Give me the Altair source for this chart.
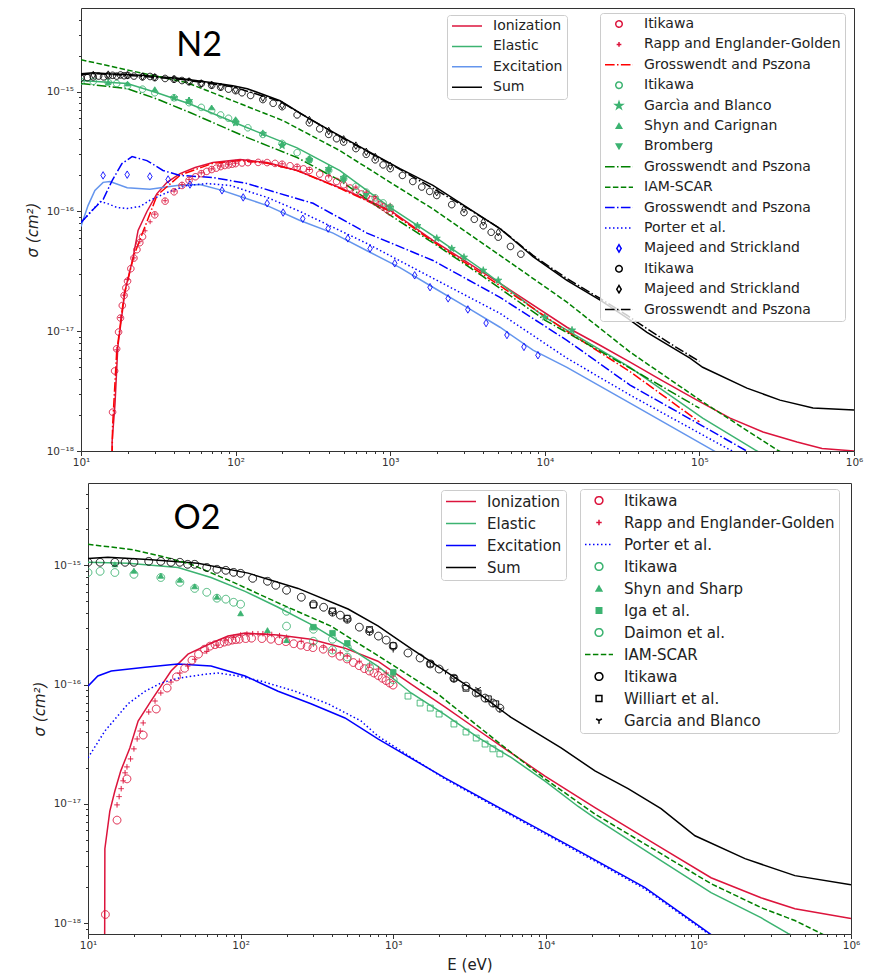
import altair as alt
import pandas as pd

# ============================ N2 ============================
# model curves  (E in eV, sigma in cm^2)
N2_ION = [(15.75, 5e-19), (15.9, 1.2e-18), (16.6, 2.5e-18), (17.3, 7.4e-18), (19.3, 2.2e-17),
          (21.7, 4.1e-17), (23.4, 6.95e-17), (26.7, 1.0e-16), (31, 1.41e-16), (36, 1.75e-16),
          (43.7, 2.07e-16), (54.7, 2.33e-16), (71.4, 2.56e-16),
          (107, 2.71e-16), (160, 2.56e-16), (250, 2.2e-16), (473, 1.58e-16), (1000, 1.02e-16),
          (1890, 5.75e-17), (5130, 2.51e-17), (13900, 1.08e-17), (22750, 7.64e-18), (35600, 5.52e-18),
          (58200, 3.83e-18), (96400, 2.66e-18), (158000, 1.88e-18), (258000, 1.44e-18),
          (428000, 1.19e-18), (621000, 1.05e-18), (1000000, 1.0e-18)]
N2_ELA = [(10, 1.24e-15), (19.9, 1.17e-15), (31, 9.8e-16), (50.7, 7.9e-16), (119, 5.0e-16),
          (250, 3.4e-16), (473, 2.19e-16), (997, 1.08e-16), (2010, 5.96e-17), (3980, 3.23e-17),
          (10000, 1.31e-17), (35600, 5.0e-18), (105000, 1.88e-18), (229000, 1.02e-18), (331000, 7.9e-19)]
N2_EXC = [(10, 7.5e-17), (11.1, 1.12e-16), (12.3, 1.5e-16), (13.9, 1.75e-16), (15.4, 1.78e-16),
          (19.9, 1.58e-16), (27.9, 1.53e-16), (41.8, 1.65e-16), (58.9, 1.68e-16), (81.7, 1.5e-16),
          (112, 1.31e-16), (160, 1.12e-16), (261, 8.4e-17), (427, 6.6e-17), (708, 4.7e-17),
          (1156, 3.4e-17), (1890, 2.33e-17), (3140, 1.58e-17), (5130, 1.08e-17), (8390, 6.95e-18),
          (13900, 5.0e-18), (35600, 2.51e-18), (121000, 1.02e-18), (183000, 7.6e-19)]
N2_SUM = [(10, 1.41e-15), (12, 1.44e-15), (15, 1.41e-15), (20, 1.39e-15), (27, 1.36e-15),
          (44, 1.29e-15), (71, 1.19e-15), (96, 1.12e-15), (119, 1.06e-15), (194, 8.4e-16),
          (290, 6.1e-16), (427, 4.6e-16), (708, 3.22e-16), (1156, 2.28e-16), (1890, 1.65e-16),
          (3140, 1.08e-16), (5130, 7.2e-17), (8390, 4.2e-17), (13900, 2.66e-17), (22800, 1.82e-17),
          (34000, 1.29e-17), (45800, 9.8e-18), (86900, 5.96e-18), (105000, 5.0e-18),
          (203000, 3.35e-18), (332000, 2.66e-18), (543000, 2.29e-18), (1000000, 2.2e-18)]

# reference curves
N2_GP_ION = [(15.8, 5e-19), (16.0, 1.6e-18), (17.0, 6.6e-18), (19.0, 2.0e-17), (22, 4.3e-17),
             (25, 6.6e-17), (31, 1.36e-16), (44, 2.02e-16), (71, 2.52e-16), (107, 2.66e-16),
             (160, 2.53e-16), (250, 2.2e-16), (473, 1.56e-16), (1000, 1.0e-16), (1890, 5.6e-17),
             (5130, 2.4e-17), (13900, 1.0e-17), (35600, 4.6e-18), (100000, 1.75e-18)]
N2_GP_ELA = [(10, 1.17e-15), (19.9, 1.06e-15), (31, 8.7e-16), (50.7, 6.7e-16), (119, 4.14e-16),
             (250, 2.82e-16), (473, 1.81e-16), (1000, 9.3e-17), (2010, 5.2e-17), (3980, 2.87e-17),
             (10000, 1.24e-17), (35600, 4.92e-18), (100000, 2.28e-18)]
N2_IAM = [(10, 1.85e-15), (24.1, 1.44e-15), (48.5, 1.19e-15), (96, 8.4e-16), (203, 5.73e-16),
          (473, 3.22e-16), (1000, 1.75e-16), (1890, 1.05e-16), (5130, 4.3e-17), (13900, 1.75e-17),
          (35600, 6.7e-18), (101000, 2.66e-18), (318000, 1.02e-18), (448000, 8.1e-19)]
N2_GP_EXC = [(10, 8.1e-17), (11.8, 1.02e-16), (13.9, 1.26e-16), (15.9, 1.81e-16), (18.4, 2.51e-16),
             (21.4, 2.87e-16), (26.7, 2.66e-16), (33.9, 2.2e-16), (43.7, 2.0e-16), (71.4, 1.92e-16),
             (119, 1.71e-16), (194, 1.41e-16), (317, 1.17e-16), (708, 6.6e-17), (1890, 3.9e-17),
             (5130, 1.92e-17), (13900, 8.4e-18), (35600, 3.55e-18), (197000, 1.02e-18),
             (286000, 7.9e-19)]
N2_PORTER = [(10, 8.1e-17), (11.8, 1.02e-16), (13.3, 1.21e-16), (14.7, 1.17e-16), (17.1, 1.08e-16),
             (19.9, 1.06e-16), (24.1, 1.1e-16), (27.9, 1.24e-16), (36, 1.44e-16), (48.5, 1.65e-16),
             (65.3, 1.71e-16), (92, 1.65e-16), (160, 1.31e-16), (261, 1.0e-16), (708, 5.4e-17),
             (1890, 2.77e-17), (5130, 1.41e-17), (13900, 5.96e-18), (35600, 2.93e-18),
             (158000, 1.02e-18), (247000, 7.5e-19)]
N2_GP_SUM = [(10, 1.38e-15), (12, 1.42e-15), (20, 1.37e-15), (44, 1.27e-15), (96, 1.1e-15),
             (194, 8.3e-16), (427, 4.55e-16), (1156, 2.25e-16), (3140, 1.07e-16), (5130, 7.2e-17),
             (8390, 4.3e-17), (13900, 2.75e-17), (22800, 1.88e-17), (34000, 1.36e-17),
             (45800, 1.05e-17), (70000, 7.4e-18), (100000, 5.6e-18)]

# measurements
N2_ITI_ION = [(16, 2.11e-18), (16.5, 4.66e-18), (17, 7.13e-18), (17.5, 9.85e-18), (18, 1.29e-17),
              (18.5, 1.64e-17), (19, 1.99e-17), (19.5, 2.3e-17), (20, 2.62e-17), (21, 3.33e-17),
              (22, 4.08e-17), (23, 4.8e-17), (24, 5.49e-17), (25, 6.16e-17), (30, 9.37e-17),
              (35, 1.22e-16), (40, 1.46e-16), (45, 1.65e-16), (50, 1.82e-16), (55, 1.95e-16),
              (60, 2.07e-16), (65, 2.16e-16), (70, 2.24e-16), (75, 2.3e-16), (80, 2.37e-16),
              (85, 2.42e-16), (90, 2.45e-16), (95, 2.48e-16), (100, 2.51e-16), (110, 2.54e-16),
              (120, 2.56e-16), (140, 2.57e-16), (160, 2.56e-16), (180, 2.52e-16), (200, 2.48e-16),
              (225, 2.41e-16), (250, 2.34e-16), (275, 2.27e-16), (300, 2.2e-16), (350, 2.05e-16),
              (400, 1.9e-16), (450, 1.78e-16), (500, 1.67e-16), (550, 1.57e-16), (600, 1.48e-16),
              (650, 1.4e-16), (700, 1.33e-16), (750, 1.26e-16), (800, 1.2e-16), (850, 1.14e-16),
              (900, 1.09e-16), (950, 1.04e-16), (1000, 9.9e-17)]
N2_RAPP = [(17, 7.0e-18), (18, 1.3e-17), (19, 2.0e-17), (20, 2.7e-17), (22, 4.1e-17), (24, 5.6e-17),
           (26, 6.9e-17), (28, 8.2e-17), (30, 9.5e-17), (35, 1.23e-16), (40, 1.48e-16),
           (45, 1.68e-16), (50, 1.85e-16), (60, 2.1e-16), (70, 2.27e-16), (80, 2.4e-16),
           (90, 2.48e-16), (100, 2.53e-16), (125, 2.58e-16), (150, 2.58e-16), (200, 2.5e-16),
           (250, 2.37e-16), (300, 2.24e-16), (400, 1.98e-16), (500, 1.77e-16), (600, 1.6e-16),
           (700, 1.45e-16), (800, 1.33e-16), (1000, 1.13e-16)]
N2_ITI_ELA = [(10, 1.22e-15), (12, 1.22e-15), (15, 1.2e-15), (17, 1.17e-15), (20, 1.12e-15),
              (25, 1.05e-15), (30, 9.8e-16), (40, 8.9e-16), (50, 8.1e-16), (60, 7.4e-16),
              (70, 6.95e-16), (80, 6.4e-16), (90, 6.0e-16), (100, 5.6e-16), (120, 5.0e-16),
              (150, 4.4e-16), (200, 3.7e-16), (250, 3.1e-16), (300, 2.7e-16), (400, 2.2e-16),
              (500, 1.88e-16), (600, 1.62e-16), (700, 1.45e-16), (800, 1.3e-16), (900, 1.18e-16),
              (1000, 1.08e-16)]
N2_GARCIA = [(40, 8.9e-16), (50, 8.4e-16), (100, 5.5e-16), (150, 4.47e-16), (200, 3.55e-16),
             (300, 2.71e-16), (400, 2.28e-16), (500, 1.92e-16), (1000, 1.08e-16), (1500, 7.6e-17),
             (2000, 5.96e-17), (2500, 4.9e-17), (3000, 4.14e-17), (4000, 3.22e-17),
             (5000, 2.66e-17), (10000, 1.31e-17), (15000, 1.02e-17)]
N2_SHYN = [(15, 1.2e-15), (20, 1.17e-15), (30, 1.05e-15), (50, 8.6e-16), (70, 7.4e-16),
           (100, 5.9e-16), (200, 3.7e-16), (300, 2.8e-16)]
N2_BROMBERG = [(300, 2.62e-16), (400, 2.15e-16), (500, 1.8e-16), (700, 1.35e-16)]
N2_MAJEED_EXC = [(13.9, 2.0e-16), (19.9, 2.03e-16), (27.9, 1.96e-16), (36.6, 1.85e-16),
                 (50.7, 1.68e-16), (81.7, 1.5e-16), (112, 1.31e-16), (160, 1.17e-16),
                 (203, 9.8e-17), (272, 8.7e-17), (397, 7.2e-17), (532, 5.96e-17), (741, 4.9e-17),
                 (1070, 3.69e-17), (1440, 2.93e-17), (1810, 2.33e-17), (2370, 1.88e-17),
                 (3180, 1.52e-17), (4170, 1.17e-17), (5690, 9.3e-18), (7330, 7.4e-18),
                 (9030, 6.3e-18)]
N2_ITI_SUM = [(10, 1.3e-15), (11, 1.31e-15), (12, 1.33e-15), (13, 1.35e-15), (14, 1.33e-15),
              (15, 1.36e-15), (16, 1.37e-15), (17, 1.35e-15), (18, 1.38e-15), (19, 1.36e-15),
              (20, 1.37e-15), (22, 1.35e-15), (25, 1.33e-15), (28, 1.34e-15), (30, 1.31e-15),
              (35, 1.29e-15), (40, 1.27e-15), (45, 1.24e-15), (50, 1.21e-15), (60, 1.17e-15),
              (70, 1.13e-15), (80, 1.09e-15), (90, 1.05e-15), (100, 1.02e-15), (110, 9.8e-16),
              (125, 9.3e-16), (150, 8.6e-16), (175, 8.0e-16), (200, 7.5e-16), (250, 6.4e-16),
              (300, 5.5e-16), (350, 4.9e-16), (400, 4.4e-16), (450, 4.05e-16), (500, 3.8e-16),
              (600, 3.35e-16), (700, 3.0e-16), (800, 2.7e-16), (900, 2.45e-16), (1000, 2.28e-16),
              (1200, 2.0e-16), (1400, 1.78e-16), (1600, 1.6e-16), (1800, 1.47e-16),
              (2000, 1.36e-16), (2500, 1.14e-16), (3000, 9.8e-17), (3500, 8.6e-17),
              (4000, 7.6e-17), (4500, 6.7e-17), (5000, 6.1e-17), (6000, 5.1e-17), (7000, 4.4e-17)]
N2_MAJEED_SUM = [(12, 1.38e-15), (15, 1.39e-15), (20, 1.37e-15), (25, 1.34e-15), (30, 1.32e-15),
                 (40, 1.27e-15), (50, 1.22e-15), (60, 1.17e-15), (70, 1.14e-15), (80, 1.1e-15),
                 (100, 1.04e-15), (150, 8.9e-16), (200, 7.7e-16), (300, 5.8e-16), (400, 4.7e-16),
                 (500, 4.0e-16), (600, 3.55e-16), (700, 3.15e-16), (800, 2.85e-16),
                 (1000, 2.4e-16), (2000, 1.45e-16), (3000, 1.05e-16), (4000, 8.2e-17),
                 (5000, 6.7e-17)]

# ============================ O2 ============================
O2_ION = [(12.85, 5e-19), (12.9, 4.2e-18), (13.9, 8.7e-18), (15.0, 1.28e-17), (16.4, 1.89e-17),
          (18.8, 2.94e-17), (21.3, 4.95e-17), (25.9, 7.3e-17), (35, 1.3e-16), (45.2, 1.8e-16),
          (64, 2.22e-16), (82.7, 2.55e-16), (107, 2.7e-16), (176, 2.6e-16), (289, 2.4e-16),
          (483, 2.02e-16), (794, 1.57e-16), (1310, 1.01e-16), (2180, 6.5e-17), (3590, 4.16e-17),
          (5920, 2.67e-17), (9880, 1.71e-17), (21000, 9.3e-18), (56900, 4.29e-18),
          (121000, 2.4e-18), (257000, 1.63e-18), (429000, 1.32e-18), (1000000, 1.09e-18)]
O2_ELA = [(10, 1.06e-15), (18.3, 1.04e-15), (38.9, 9.6e-16), (64, 7.9e-16), (107, 6.05e-16),
          (176, 4.45e-16), (289, 3.2e-16), (483, 2.15e-16), (794, 1.42e-16), (1310, 8.5e-17),
          (2180, 5.6e-17), (3590, 3.6e-17), (5920, 2.45e-17), (9880, 1.55e-17), (16300, 9.5e-18),
          (21000, 7.6e-18), (56900, 3.34e-18), (121000, 1.8e-18), (257000, 1.11e-18),
          (386000, 8.2e-19), (500000, 7e-19)]
O2_EXC = [(10, 9.7e-17), (11.6, 1.18e-16), (14.2, 1.3e-16), (23.7, 1.4e-16), (38.9, 1.49e-16),
          (64, 1.43e-16), (107, 1.18e-16), (176, 8.8e-17), (289, 6.9e-17), (483, 5.25e-17),
          (794, 3.5e-17), (2180, 1.65e-17), (5920, 8.2e-18), (16300, 4.05e-18), (44700, 1.98e-18),
          (104000, 9.2e-19), (130000, 7.5e-19)]
O2_SUM = [(10, 1.14e-15), (13.5, 1.17e-15), (24.7, 1.12e-15), (52.6, 1.04e-15), (112, 8.6e-16),
          (238, 6.4e-16), (506, 4.3e-16), (794, 3.1e-16), (1310, 2.0e-16), (2180, 1.3e-16),
          (3590, 8.5e-17), (5920, 5.3e-17), (12600, 2.94e-17), (21000, 1.89e-17),
          (34600, 1.34e-17), (56900, 9.1e-18), (95000, 5.4e-18), (202000, 3.47e-18),
          (429000, 2.5e-18), (1000000, 2.1e-18)]

O2_PORTER = [(10, 2.43e-17), (12.9, 4.08e-17), (18.3, 6.9e-17), (23.7, 8.8e-17), (30.1, 1.03e-16),
             (38.9, 1.13e-16), (58.5, 1.22e-16), (71, 1.25e-16), (96, 1.18e-16), (136, 1.07e-16),
             (227, 8.8e-17), (374, 6.9e-17), (615, 4.95e-17), (794, 3.7e-17), (2180, 1.62e-17),
             (5920, 8.0e-18), (16300, 3.95e-18), (44700, 1.93e-18), (104000, 9.0e-19),
             (130000, 7.3e-19)]
O2_IAM = [(10, 1.5e-15), (19.1, 1.36e-15), (32, 1.17e-15), (47.3, 1.02e-15), (86.5, 7.35e-16),
          (184, 4.72e-16), (391, 3.09e-16), (1074, 1.37e-16), (1970, 8.3e-17), (5000, 3.2e-17),
          (9880, 1.62e-17), (21000, 8.2e-18), (56900, 3.82e-18), (121000, 2.14e-18),
          (257000, 1.35e-18), (429000, 1.05e-18), (635000, 8.2e-19), (800000, 7e-19)]

O2_ITI_ION = [(13, 1.18e-18), (15.5, 7.3e-18), (18, 1.62e-17), (23, 3.77e-17), (28, 6.24e-17),
              (33, 9.35e-17), (38, 1.16e-16), (43, 1.37e-16), (48, 1.6e-16), (53, 1.8e-16),
              (58, 1.98e-16), (63, 2.1e-16), (68, 2.16e-16), (73, 2.2e-16), (78, 2.27e-16),
              (83, 2.31e-16), (88, 2.36e-16), (93, 2.38e-16), (98, 2.4e-16), (108, 2.43e-16),
              (118, 2.45e-16), (138, 2.43e-16), (158, 2.4e-16), (178, 2.33e-16), (198, 2.29e-16),
              (223, 2.2e-16), (248, 2.14e-16), (273, 2.08e-16), (298, 2.04e-16), (348, 1.98e-16),
              (398, 1.84e-16), (448, 1.73e-16), (498, 1.64e-16), (548, 1.53e-16), (598, 1.44e-16),
              (648, 1.36e-16), (698, 1.3e-16), (748, 1.25e-16), (798, 1.19e-16), (848, 1.13e-16),
              (898, 1.08e-16), (948, 1.03e-16), (998, 9.9e-17)]
O2_RAPP = [(15.5, 9.8e-18), (16, 1.15e-17), (16.5, 1.34e-17), (17, 1.56e-17), (17.5, 1.82e-17),
           (18, 2.04e-17), (19, 2.38e-17), (20, 2.89e-17), (21, 3.5e-17), (22, 4.08e-17),
           (23, 4.77e-17), (25, 5.89e-17), (27.5, 7.28e-17), (30, 8.5e-17), (35, 1.05e-16),
           (40, 1.25e-16), (45, 1.43e-16), (50, 1.63e-16), (60, 1.9e-16), (70, 2.14e-16),
           (80, 2.36e-16), (90, 2.49e-16), (100, 2.6e-16), (110, 2.65e-16), (120, 2.67e-16),
           (130, 2.67e-16), (140, 2.67e-16), (150, 2.65e-16), (160, 2.63e-16), (180, 2.57e-16),
           (200, 2.49e-16), (250, 2.31e-16), (300, 2.18e-16), (350, 2.06e-16), (400, 1.94e-16),
           (450, 1.84e-16), (500, 1.73e-16), (600, 1.57e-16), (700, 1.46e-16), (800, 1.35e-16),
           (900, 1.25e-16), (1000, 1.18e-16)]
O2_ITI_ELA = [(10, 8.7e-16), (12, 8.9e-16), (15, 8.7e-16), (20, 8.4e-16), (30, 7.9e-16),
              (40, 7.2e-16), (50, 6.4e-16), (60, 5.94e-16), (70, 5.3e-16), (80, 5.2e-16),
              (90, 4.9e-16), (100, 4.72e-16), (200, 3.09e-16), (300, 2.31e-16), (400, 1.95e-16),
              (500, 1.7e-16), (700, 1.4e-16), (1000, 1.1e-16)]
O2_SHYN = [(15, 1.02e-15), (20, 9.0e-16), (30, 8.17e-16), (40, 7.56e-16), (50, 6.67e-16),
           (70, 5.45e-16), (100, 3.96e-16), (150, 2.86e-16), (200, 2.36e-16)]
O2_IGA = [(300, 3.03e-16), (400, 2.7e-16), (500, 2.22e-16), (1000, 1.27e-16)]
O2_IGA_HIGH = [(1250, 8.0e-17), (1500, 7.0e-17), (1750, 6.35e-17), (2000, 5.66e-17),
               (2500, 4.67e-17), (3000, 4.0e-17), (3500, 3.56e-17), (4000, 3.17e-17),
               (4500, 2.89e-17), (5000, 2.62e-17)]
O2_DAIMON = [(200, 4.12e-16), (300, 2.91e-16), (400, 2.4e-16), (500, 2.05e-16)]
O2_ITI_SUM = [(10, 1.06e-15), (12, 1.06e-15), (15, 1.06e-15), (17.5, 1.06e-15), (20, 1.06e-15),
              (25, 1.08e-15), (30, 1.08e-15), (35, 1.06e-15), (40, 1.06e-15), (45, 1.02e-15),
              (50, 1.02e-15), (60, 9.6e-16), (70, 9.26e-16), (80, 9.08e-16), (90, 8.73e-16),
              (100, 8.57e-16), (120, 7.78e-16), (150, 7.35e-16), (170, 6.8e-16), (200, 6.18e-16),
              (250, 5.4e-16), (300, 4.72e-16), (350, 4.45e-16), (400, 4.05e-16), (450, 3.82e-16),
              (500, 3.53e-16), (600, 3.03e-16), (700, 2.8e-16), (800, 2.55e-16), (900, 2.36e-16),
              (1000, 2.1e-16), (1250, 1.84e-16), (1500, 1.67e-16), (1750, 1.49e-16),
              (2000, 1.35e-16), (2500, 1.13e-16), (3000, 9.7e-17), (3500, 8.5e-17),
              (4000, 7.7e-17), (4500, 7.0e-17), (5000, 6.35e-17)]
O2_WILLIART = [(300, 4.65e-16), (400, 4.15e-16), (500, 3.6e-16), (700, 2.9e-16), (1000, 2.12e-16),
               (1750, 1.49e-16), (2500, 1.13e-16), (3000, 9.3e-17), (3600, 8.5e-17),
               (4200, 7.6e-17), (4700, 6.9e-17)]
O2_GARCIA = [(400, 4.0e-16), (500, 3.5e-16), (700, 2.75e-16), (1000, 1.98e-16), (1750, 1.51e-16),
             (2200, 1.3e-16), (2500, 1.11e-16), (3600, 9.2e-17), (5000, 6.2e-17)]

# ============================ styling ============================
CRIMSON, MSG, CORNFLOWER = "#dc143c", "#3cb371", "#6495ed"
RED, GREEN, BLUE, BLACK = "#ff0000", "#008000", "#0000ff", "#000000"

SOLID = [1, 0]
DASHDOT = [9.6, 2.4, 1.5, 2.4]
DASHED = [5.5, 2.4]
DOTTED = [1.5, 2.5]

PLUS = "M-1,0L1,0M0,-1L0,1"
STAR = ("M0,-1L0.2245,-0.309L0.951,-0.309L0.363,0.118L0.588,0.809L0,0.382"
        "L-0.588,0.809L-0.363,0.118L-0.951,-0.309L-0.2245,-0.309Z")
THIN_DIAMOND = "M0,-1L0.6,0L0,1L-0.6,0Z"
TRI_DOWN = "M0,0L0,1M0,0L-0.87,-0.5M0,0L0.87,-0.5"
NONE = "transparent"
LINE = 784  # legend sample length for line entries (28 px)

# legend key, series, kind, colour, dash, shape, fill, size
N2_REFS = [
    ("Itikawa", N2_ITI_ION, "pt", CRIMSON, SOLID, "circle", NONE, 42),
    ("Rapp and Englander-Golden", N2_RAPP, "pt", CRIMSON, SOLID, PLUS, NONE, 22),
    ("Grosswendt and Pszona", N2_GP_ION, "ln", RED, DASHDOT, "stroke", NONE, LINE),
    ("Itikawa ", N2_ITI_ELA, "pt", MSG, SOLID, "circle", NONE, 42),
    ("Garcìa and Blanco", N2_GARCIA, "pt", MSG, SOLID, STAR, MSG, 55),
    ("Shyn and Carignan", N2_SHYN, "pt", MSG, SOLID, "triangle-up", MSG, 30),
    ("Bromberg", N2_BROMBERG, "pt", MSG, SOLID, "triangle-down", MSG, 30),
    ("Grosswendt and Pszona ", N2_GP_ELA, "ln", GREEN, DASHDOT, "stroke", NONE, LINE),
    ("IAM-SCAR", N2_IAM, "ln", GREEN, DASHED, "stroke", NONE, LINE),
    ("Grosswendt and Pszona  ", N2_GP_EXC, "ln", BLUE, DASHDOT, "stroke", NONE, LINE),
    ("Porter et al.", N2_PORTER, "ln", BLUE, DOTTED, "stroke", NONE, LINE),
    ("Majeed  and Strickland", N2_MAJEED_EXC, "pt", BLUE, SOLID, THIN_DIAMOND, NONE, 55),
    ("Itikawa  ", N2_ITI_SUM, "pt", BLACK, SOLID, "circle", NONE, 42),
    ("Majeed and Strickland", N2_MAJEED_SUM, "pt", BLACK, SOLID, THIN_DIAMOND, NONE, 55),
    ("Grosswendt and Pszona   ", N2_GP_SUM, "ln", BLACK, DASHDOT, "stroke", NONE, LINE),
]
O2_REFS = [
    ("Itikawa", O2_ITI_ION, "pt", CRIMSON, SOLID, "circle", NONE, 60),
    ("Rapp and Englander-Golden", O2_RAPP, "pt", CRIMSON, SOLID, PLUS, NONE, 30),
    ("Porter et al.", O2_PORTER, "ln", BLUE, DOTTED, "stroke", NONE, LINE),
    ("Itikawa ", O2_ITI_ELA, "pt", MSG, SOLID, "circle", NONE, 60),
    ("Shyn and Sharp", O2_SHYN, "pt", MSG, SOLID, "triangle-up", MSG, 32),
    ("Iga et al.", O2_IGA, "pt", MSG, SOLID, "square", MSG, 30),
    ("Daimon et al.", O2_DAIMON, "pt", MSG, SOLID, "circle", NONE, 60),
    ("IAM-SCAR", O2_IAM, "ln", GREEN, DASHED, "stroke", NONE, LINE),
    ("Itikawa  ", O2_ITI_SUM, "pt", BLACK, SOLID, "circle", NONE, 60),
    ("Williart et al.", O2_WILLIART, "pt", BLACK, SOLID, "square", NONE, 34),
    ("Garcia and Blanco", O2_GARCIA, "pt", BLACK, SOLID, TRI_DOWN, NONE, 45),
    ("Iga et al. ", O2_IGA_HIGH, "pt", MSG, SOLID, "square", NONE, 34),
]

MODEL_NAMES = ["Ionization", "Elastic", "Excitation", "Sum"]

DEC = "abs(log(datum.value)/LN10 - round(log(datum.value)/LN10)) < 0.001"
X_LABELS = ("(" + DEC + ") ? ['10¹','10²','10³','10⁴','10⁵','10⁶']"
            "[round(log(datum.value)/LN10) - 1] : ''")
Y_LABELS = ("(" + DEC + ") ? ['10⁻¹⁸','10⁻¹⁷','10⁻¹⁶','10⁻¹⁵']"
            "[round(log(datum.value)/LN10) + 18] : ''")
X_TICKS = [m * 10 ** k for k in range(1, 6) for m in range(1, 10)] + [10 ** 6]
Y_TICKS_N2 = [m * 10.0 ** k for k in (-18, -17, -16) for m in range(1, 10)] + [1e-15, 2e-15, 3e-15, 4e-15]
Y_TICKS_O2 = [9e-19] + Y_TICKS_N2
TICK_SIZE = {"condition": {"test": DEC, "value": 4.5}, "value": 2.5}


def series_frame(entries):
    rows = []
    for key, pts in entries:
        for e, s in pts:
            rows.append({"E": e, "s": s, "key": key})
    return pd.DataFrame(rows)


def panel(label, label_pos, models, model_colors, refs, width, height, ydom, yticks,
          x_title, legend_a, legend_b, font_size, row_pad, hidden=()):
    x = alt.X("E:Q", scale=alt.Scale(type="log", domain=[10, 1e6], nice=False),
              axis=alt.Axis(values=X_TICKS, labelExpr=X_LABELS, tickSize=TICK_SIZE, grid=False,
                            domain=False, labelFlush=False, labelOverlap=False,
                            labelFont="DejaVu Sans", labelFontSize=10.5, labelColor="#333",
                            tickColor="#333", labelPadding=2, title=x_title,
                            titleFont="DejaVu Sans", titleFontSize=15, titleFontWeight="normal",
                            titleColor="#222", titlePadding=6))
    y = alt.Y("s:Q", scale=alt.Scale(type="log", domain=ydom, nice=False),
              axis=alt.Axis(values=yticks, labelExpr=Y_LABELS, tickSize=TICK_SIZE, grid=False,
                            domain=False, labelFlush=False, labelOverlap=False,
                            labelFont="DejaVu Sans", labelFontSize=10.5, labelColor="#333",
                            tickColor="#333", labelPadding=3, title="σ (cm²)",
                            titleFont="DejaVu Sans", titleFontSize=15, titleFontStyle="italic",
                            titleFontWeight="normal", titleColor="#222", titlePadding=6))

    common = dict(title=None, orient="none", labelFont="DejaVu Sans", labelFontSize=font_size,
                  labelColor="#222", fillColor="rgba(255,255,255,0.8)", strokeColor="#cccccc",
                  cornerRadius=3, padding=4, rowPadding=row_pad, clipHeight=font_size,
                  labelOffset=10, labelLimit=320, symbolStrokeWidth=1.5)

    # model curves
    mdf = series_frame(list(zip(MODEL_NAMES, models)))
    model_layer = alt.Chart(mdf).mark_line(clip=True, strokeWidth=1.5).encode(
        x=x, y=y,
        stroke=alt.Stroke("key:N", scale=alt.Scale(domain=MODEL_NAMES, range=model_colors),
                          legend=alt.Legend(legendX=legend_a[0], legendY=legend_a[1],
                                            symbolType="stroke", symbolSize=900, **common)),
    )

    keys = [r[0] for r in refs]
    shown = [k for k in keys if k not in hidden]
    leg = alt.Legend(legendX=legend_b[0], legendY=legend_b[1], values=shown, **common)
    color = alt.Color("key:N", scale=alt.Scale(domain=keys, range=[r[3] for r in refs]), legend=leg)
    dash = alt.StrokeDash("key:N", scale=alt.Scale(domain=keys, range=[r[4] for r in refs]), legend=leg)
    shape = alt.Shape("key:N", scale=alt.Scale(domain=keys, range=[r[5] for r in refs]), legend=leg)
    fill = alt.Fill("key:N", scale=alt.Scale(domain=keys, range=[r[6] for r in refs]), legend=leg)
    size = alt.Size("key:N", scale=alt.Scale(type="ordinal", domain=keys, range=[r[7] for r in refs]),
                    legend=leg)

    ldf = series_frame([(r[0], r[1]) for r in refs if r[2] == "ln"])
    pdf = series_frame([(r[0], r[1]) for r in refs if r[2] == "pt"])
    ref_lines = alt.Chart(ldf).mark_line(clip=True, strokeWidth=1.5).encode(
        x=x, y=y, color=color, strokeDash=dash)
    ref_points = alt.Chart(pdf).mark_point(clip=True, filled=False, strokeWidth=1, opacity=1).encode(
        x=x, y=y, color=color, shape=shape, fill=fill, size=size, strokeDash=dash)

    tdf = pd.DataFrame({"E": [label_pos[0]], "s": [label_pos[1]], "t": [label]})
    text = alt.Chart(tdf).mark_text(font="Lato", fontSize=34, color="black").encode(
        x=x, y=y, text="t:N")

    return alt.layer(model_layer, ref_lines, ref_points, text).properties(width=width, height=height)


def gap(w):
    """Blank column that sets the horizontal offset of a panel row."""
    return alt.Chart(pd.DataFrame({"a": [0]})).mark_point(opacity=0).encode(
        x=alt.X("a:Q", axis=None), y=alt.Y("a:Q", axis=None)
    ).properties(width=w, height=1, view=alt.ViewBackground(stroke="transparent"))


INDEP = dict(color="independent", stroke="independent", strokeDash="independent",
             shape="independent", fill="independent", size="independent")

top = panel("N2", (58, 2.42e-15), [N2_ION, N2_ELA, N2_EXC, N2_SUM],
            [CRIMSON, MSG, CORNFLOWER, BLACK], N2_REFS, 773, 443, [1e-18, 5e-15], Y_TICKS_N2,
            None, (366, 7), (519, 5), 14, 6.4)
bottom = panel("O2", (51.8, 2.43e-15), [O2_ION, O2_ELA, O2_EXC, O2_SUM],
               [CRIMSON, MSG, BLUE, BLACK], O2_REFS, 763, 451, [8.1e-19, 4.9e-15], Y_TICKS_O2,
               "E (eV)", (353, 7), (492, 6), 15, 6, hidden=("Iga et al. ",))

row_top = alt.hconcat(gap(1), top, spacing=0).resolve_scale(**INDEP)
row_bottom = alt.hconcat(gap(10), bottom, spacing=0).resolve_scale(**INDEP)

chart = alt.vconcat(row_top, row_bottom, spacing=11).resolve_scale(**INDEP).properties(
    padding={"left": 17, "top": 5, "right": 0, "bottom": 0}
).configure_view(stroke="#333", strokeWidth=1)

chart.save("out.html", embed_options={"renderer": "svg", "actions": False})
